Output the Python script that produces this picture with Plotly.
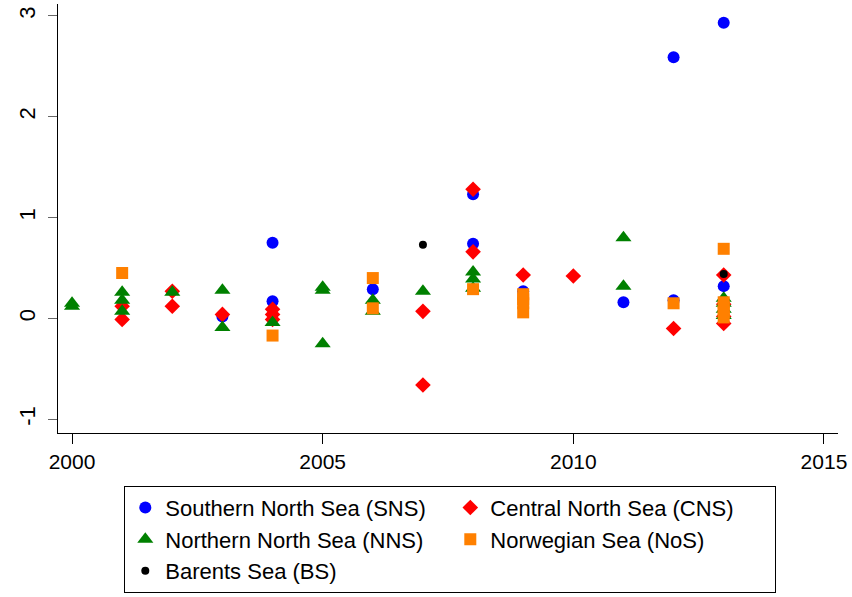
import plotly.graph_objects as go

# Southern North Sea (SNS)
sns_year = [2003, 2004, 2004, 2006, 2008, 2008, 2009, 2011, 2012, 2012, 2013, 2013]
sns_val = [0.02, 0.75, 0.17, 0.29, 1.23, 0.74, 0.27, 0.16, 2.59, 0.18, 2.93, 0.32]

# Central North Sea (CNS)
cns_year = [2001, 2001, 2002, 2002, 2003, 2004, 2004, 2004, 2007, 2007,
            2008, 2008, 2009, 2010, 2012, 2013, 2013, 2013, 2013]
cns_val = [0.12, -0.01, 0.27, 0.12, 0.04, 0.09, 0.04, -0.01, 0.07, -0.66,
           1.28, 0.66, 0.43, 0.42, -0.10, 0.43, 0.14, 0.02, -0.05]

# Northern North Sea (NNS)
nns_year = [2000, 2000, 2001, 2001, 2001, 2002, 2003, 2003, 2004, 2005, 2005, 2005,
            2006, 2006, 2007, 2008, 2008, 2008, 2011, 2011, 2013, 2013, 2013, 2013]
nns_val = [0.15, 0.12, 0.26, 0.18, 0.07, 0.26, 0.28, -0.09, -0.04, 0.31, 0.28, -0.25,
           0.18, 0.07, 0.27, 0.46, 0.39, 0.30, 0.80, 0.32, 0.20, 0.15, 0.09, 0.03]

# Norwegian Sea (NoS)
nos_year = [2001, 2004, 2006, 2006, 2008, 2009, 2009, 2009, 2009, 2012,
            2013, 2013, 2013, 2013, 2013]
nos_val = [0.45, -0.17, 0.40, 0.10, 0.29, 0.24, 0.19, 0.15, 0.06, 0.15,
           0.69, 0.16, 0.11, 0.06, 0.01]

# Barents Sea (BS)
bs_year = [2007, 2013]
bs_val = [0.73, 0.44]

x_ticks = [2000, 2005, 2010, 2015]
y_ticks = [-1, 0, 1, 2, 3]

FONT = "Arial, Liberation Sans, sans-serif"

fig = go.Figure()
series = [
    ("Southern North Sea (SNS)", sns_year, sns_val, "circle", "#0000ff", 12),
    ("Central North Sea (CNS)", cns_year, cns_val, "diamond", "#ff0000", 12),
    ("Northern North Sea (NNS)", nns_year, nns_val, "triangle-up", "#008000", 14),
    ("Norwegian Sea (NoS)", nos_year, nos_val, "square", "#ff8000", 12),
    ("Barents Sea (BS)", bs_year, bs_val, "circle", "#000000", 8),
]
for name, xs, ys, sym, col, sz in series:
    fig.add_trace(go.Scatter(
        x=xs, y=ys, mode="markers", name=name,
        marker=dict(symbol=sym, color=col, size=sz, line=dict(width=0)),
    ))

fig.update_layout(
    width=852, height=597,
    margin=dict(l=58, r=14, t=4, b=155),
    paper_bgcolor="white", plot_bgcolor="white",
    font=dict(family=FONT, size=21, color="black"),
    showlegend=True,
    legend=dict(
        orientation="h", x=0.085, xanchor="left", y=-0.123, yanchor="top",
        bordercolor="black", borderwidth=1, entrywidth=280, entrywidthmode="pixels",
        font=dict(family=FONT, size=22, color="black"), bgcolor="white",
    ),
)
fig.update_xaxes(
    range=[1999.72, 2015.28], tickvals=x_ticks, ticktext=[str(v) for v in x_ticks],
    showgrid=False, zeroline=False, showline=True, linecolor="black", linewidth=1,
    ticks="outside", ticklen=10, tickcolor="black", tickwidth=1,
    tickfont=dict(size=21),
)
fig.update_yaxes(
    range=[-1.136, 3.117], tickvals=y_ticks, ticktext=[str(v) for v in y_ticks],
    showgrid=False, zeroline=False, showline=True, linecolor="black", linewidth=1,
    ticks="outside", ticklen=9, tickcolor="#666666", tickwidth=1,
    tickangle=-90, tickfont=dict(size=22), ticklabelstandoff=4,
)

fig.write_html("out.html")
